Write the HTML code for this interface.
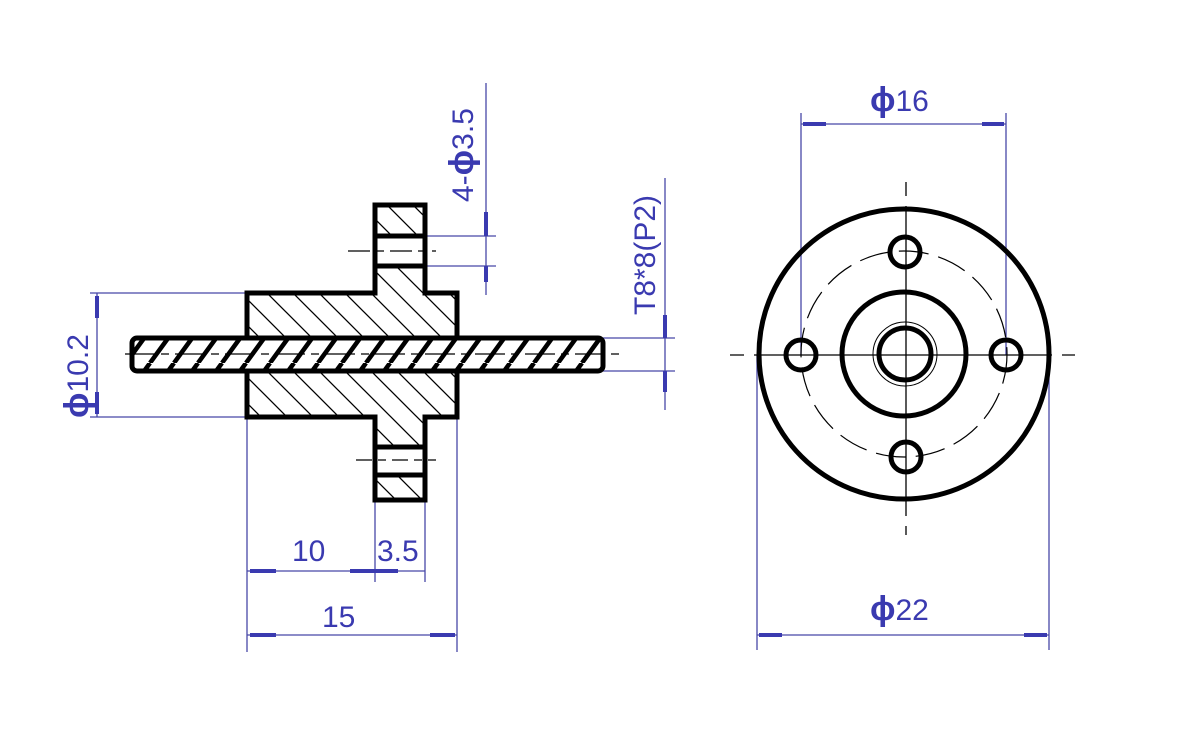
<!DOCTYPE html>
<html><head><style>html,body{margin:0;padding:0;background:#fff}svg{display:block}</style></head>
<body>
<svg width="1200" height="742" viewBox="0 0 1200 742" xmlns="http://www.w3.org/2000/svg">
<defs>
<pattern id="h1" patternUnits="userSpaceOnUse" width="26" height="26">
<path d="M-6,-6 L32,32 M-6,20 L6,32 M20,-6 L32,6" stroke="#000" stroke-width="1.3"/>
</pattern>
<pattern id="h2" patternUnits="userSpaceOnUse" width="24" height="33">
<path d="M6,33 L30,0 M-18,33 L6,0" stroke="#000" stroke-width="4.5"/>
</pattern>
</defs>
<g fill="none" stroke="#4848a8" stroke-width="1.3">
<line x1="90" y1="293" x2="247" y2="293"/><line x1="90" y1="417" x2="247" y2="417"/>
<line x1="97" y1="293" x2="97" y2="417"/>
<line x1="247" y1="417" x2="247" y2="652"/><line x1="457" y1="417" x2="457" y2="652"/>
<line x1="375" y1="500" x2="375" y2="582"/><line x1="425" y1="500" x2="425" y2="582"/>
<line x1="247" y1="571" x2="425" y2="571"/>
<line x1="247" y1="635" x2="457" y2="635"/>
<line x1="486" y1="83" x2="486" y2="295"/>
<line x1="425" y1="236" x2="496" y2="236"/><line x1="425" y1="266" x2="496" y2="266"/>
<line x1="665" y1="178" x2="665" y2="410"/>
<line x1="603" y1="338" x2="675" y2="338"/><line x1="603" y1="371" x2="675" y2="371"/>
<line x1="801" y1="113" x2="801" y2="355"/><line x1="1006" y1="113" x2="1006" y2="355"/>
<line x1="801" y1="124" x2="1006" y2="124"/>
<line x1="757" y1="355" x2="757" y2="650"/><line x1="1049" y1="355" x2="1049" y2="650"/>
<line x1="757" y1="635" x2="1049" y2="635"/>
</g>
<g stroke="#3a3ab0" stroke-width="4">
<line x1="97" y1="296" x2="97" y2="318"/><line x1="97" y1="392" x2="97" y2="414"/>
<line x1="250" y1="571" x2="276" y2="571"/><line x1="350" y1="571" x2="375" y2="571"/><line x1="375" y1="571" x2="398" y2="571"/>
<line x1="250" y1="635" x2="276" y2="635"/><line x1="430" y1="635" x2="455" y2="635"/>
<line x1="486" y1="212" x2="486" y2="236"/><line x1="486" y1="266" x2="486" y2="282"/>
<line x1="665" y1="315" x2="665" y2="338"/><line x1="665" y1="371" x2="665" y2="392"/>
<line x1="803" y1="124" x2="826" y2="124"/><line x1="982" y1="124" x2="1004" y2="124"/>
<line x1="759" y1="635" x2="782" y2="635"/><line x1="1024" y1="635" x2="1047" y2="635"/>
</g>
<g font-family="'Liberation Sans','DejaVu Sans',sans-serif" fill="#3a3ab0" font-size="30">
<text x="292" y="561">10</text>
<text x="377" y="561">3.5</text>
<text x="322" y="627">15</text>
<text x="870" y="111"><tspan font-weight="bold" font-size="34">ϕ</tspan>16</text>
<text x="870" y="620"><tspan font-weight="bold" font-size="34">ϕ</tspan>22</text>
<text transform="translate(88,418) rotate(-90)"><tspan font-weight="bold" font-size="34">ϕ</tspan>10.2</text>
<text transform="translate(473,202) rotate(-90)">4-<tspan font-weight="bold" font-size="34">ϕ</tspan>3.5</text>
<text transform="translate(655,315) rotate(-90)">T8*8(P2)</text>
</g>
<g stroke="#000" stroke-width="5" stroke-linejoin="miter">
<path d="M375,205 H425 V293 H457 V338 H247 V293 H375 Z" fill="url(#h1)"/>
<path d="M247,371 H457 V417 H425 V500 H375 V417 H247 Z" fill="url(#h1)"/>
<rect x="375" y="236" width="50" height="30" fill="#fff"/>
<rect x="375" y="447" width="50" height="28" fill="#fff"/>
<rect x="132" y="338" width="471" height="33" rx="5" fill="url(#h2)"/>
</g>
<g stroke="#000" stroke-width="1.3">
<line x1="348" y1="251" x2="436" y2="251" stroke-dasharray="22,6,8,6"/>
<line x1="356" y1="460" x2="436" y2="460" stroke-dasharray="16,6,8,6"/>
<line x1="125" y1="354" x2="620" y2="354" stroke-dasharray="30,6,8,6"/>
</g>
<g fill="none" stroke="#000">
<line x1="730" y1="355" x2="1075" y2="355" stroke-width="1.3" stroke-dasharray="14,10,298,10,20"/>
<line x1="906" y1="182" x2="906" y2="535" stroke-width="1.3" stroke-dasharray="14,10,310,10,20"/>
<circle cx="904" cy="354" r="103" stroke-width="1.2" stroke-dasharray="30,10"/>
<circle cx="904" cy="354" r="145" stroke-width="5"/>
<circle cx="904" cy="354" r="62" stroke-width="5"/>
<circle cx="905" cy="354" r="26" stroke-width="5"/>
<circle cx="905" cy="354" r="32" stroke-width="1"/>
<circle cx="801" cy="355" r="15" stroke-width="5"/>
<circle cx="1006" cy="355" r="15" stroke-width="5"/>
<circle cx="905" cy="252" r="15" stroke-width="5"/>
<circle cx="906" cy="457" r="15" stroke-width="5"/>
</g>
</svg>
</body></html>
